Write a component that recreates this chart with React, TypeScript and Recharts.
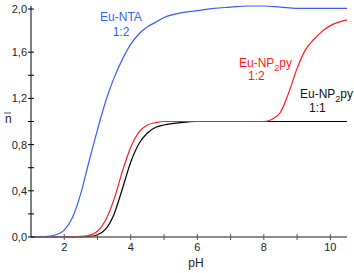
import React from "react"
import { LineChart, Line, XAxis, YAxis } from "recharts"

// Eu-NTA 1:2
const ntaPH = [1, 1.5, 1.75, 2, 2.25, 2.5, 2.75, 3, 3.25, 3.5, 3.75, 4, 4.25, 4.5, 4.75, 5, 5.5, 6, 6.5, 7, 7.5, 8, 8.5, 9, 9.5, 10, 10.5]
const ntaN = [0, 0.005, 0.02, 0.06, 0.17, 0.38, 0.66, 0.93, 1.18, 1.38, 1.54, 1.67, 1.76, 1.82, 1.86, 1.9, 1.94, 1.96, 1.98, 1.99, 2.0, 2.0, 1.99, 1.98, 1.98, 1.98, 1.98]

// Eu-NP2py 1:2
const np12PH = [1, 2, 2.5, 2.75, 3, 3.25, 3.5, 3.75, 4, 4.25, 4.5, 4.75, 5, 5.5, 6, 7, 8, 8.25, 8.5, 8.75, 9, 9.25, 9.5, 9.75, 10, 10.25, 10.5]
const np12N = [0, 0, 0.005, 0.015, 0.05, 0.15, 0.33, 0.57, 0.78, 0.91, 0.97, 0.99, 1, 1, 1, 1, 1, 1.02, 1.08, 1.25, 1.46, 1.62, 1.71, 1.78, 1.83, 1.86, 1.88]

// Eu-NP2py 1:1
const np11PH = [1, 2, 2.75, 3, 3.25, 3.5, 3.75, 4, 4.25, 4.5, 4.75, 5, 5.5, 6, 7, 8, 9, 10, 10.5]
const np11N = [0, 0, 0.005, 0.02, 0.07, 0.2, 0.42, 0.65, 0.81, 0.9, 0.95, 0.97, 0.99, 1, 1, 1, 1, 1, 1]

const xTicks = [2, 3, 4, 5, 6, 7, 8, 9, 10]
const yTicks = [0, 0.2, 0.4, 0.6, 0.8, 1.0, 1.2, 1.4, 1.6, 1.8, 2.0]

const toRows = (xs: number[], ys: number[]) => xs.map((x, i) => ({ pH: x, n: ys[i] }))

const font = "Liberation Sans, Arial, sans-serif"

const XTick = (props: any) => {
  const { x, y, payload } = props
  const v = payload.value
  return (
    <g>
      <line x1={x} x2={x} y1={y - 3} y2={y + 3} stroke="#555" />
      {v % 2 === 0 && (
        <text x={x} y={y + 14} textAnchor="middle" fontSize={11} fontFamily={font} fill="#222">
          {v}
        </text>
      )}
    </g>
  )
}

const YTick = (props: any) => {
  const { x, y, payload } = props
  const v = Math.round(payload.value * 10) / 10
  const major = Math.round(v * 10) % 4 === 0
  return (
    <g>
      <line x1={x - 3} x2={x + 3} y1={y} y2={y} stroke="#000" />
      {major && (
        <text x={x - 4} y={y + 4} textAnchor="end" fontSize={11} fontFamily={font} fill="#222">
          {v.toFixed(1).replace(".", ",")}
        </text>
      )}
    </g>
  )
}

export default function App() {
  return (
    <div style={{ position: "absolute", left: 0, top: 0, width: 354, height: 273, background: "#fff" }}>
      <LineChart width={354} height={273} margin={{ top: 6, right: 7, left: 0, bottom: 6 }}>
        <XAxis
          type="number"
          dataKey="pH"
          domain={[1, 10.5]}
          ticks={xTicks}
          tickSize={0}
          tickMargin={0}
          tickLine={false}
          tick={<XTick />}
          height={30}
          axisLine={{ stroke: "#666", strokeWidth: 1.5 }}
          allowDuplicatedCategory={false}
        />
        <YAxis
          type="number"
          dataKey="n"
          domain={[0, 2]}
          ticks={yTicks}
          tickSize={0}
          tickMargin={0}
          tickLine={false}
          tick={<YTick />}
          width={31}
          axisLine={{ stroke: "#000", strokeWidth: 1 }}
        />
        <Line data={toRows(np11PH, np11N)} dataKey="n" type="monotone" stroke="#000" strokeWidth={1.2} dot={false} isAnimationActive={false} />
        <Line data={toRows(np12PH, np12N)} dataKey="n" type="monotone" stroke="#ff1a1a" strokeWidth={1.2} dot={false} isAnimationActive={false} />
        <Line data={toRows(ntaPH, ntaN)} dataKey="n" type="monotone" stroke="#3a5cff" strokeWidth={1.2} dot={false} isAnimationActive={false} />
      </LineChart>
      <svg width={354} height={273} style={{ position: "absolute", left: 0, top: 0, pointerEvents: "none" }} fontFamily={font} fontSize={12}>
        <text x={196} y={267} textAnchor="middle" fill="#222">pH</text>
        <text x={5} y={123} fill="#222">n</text>
        <line x1={4} x2={11} y1={113} y2={113} stroke="#222" strokeWidth={0.8} />
        <text x={121} y={21} textAnchor="middle" fill="#3a5cff">Eu-NTA</text>
        <text x={121} y={36} textAnchor="middle" fill="#3a5cff">1:2</text>
        <text x={239} y={67} fill="#ff1a1a">
          Eu-NP<tspan fontSize={9} dy={4}>2</tspan><tspan dy={-4}>py</tspan>
        </text>
        <text x={248} y={80} fill="#ff1a1a">1:2</text>
        <text x={300} y={98} fill="#111">
          Eu-NP<tspan fontSize={9} dy={4}>2</tspan><tspan dy={-4}>py</tspan>
        </text>
        <text x={309} y={112} fill="#111">1:1</text>
      </svg>
    </div>
  )
}
